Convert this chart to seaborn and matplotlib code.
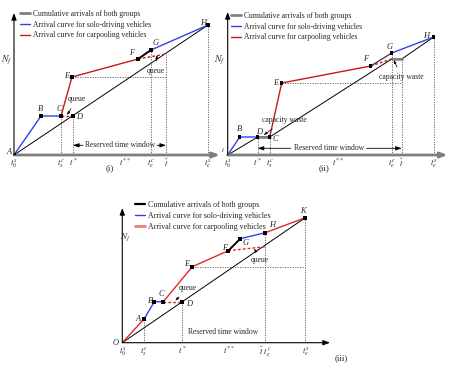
import matplotlib
matplotlib.use("Agg")
import matplotlib.pyplot as plt
import seaborn as sns
from matplotlib.lines import Line2D

sns.set_style("white")
plt.rcParams["font.family"] = ["Liberation Serif", "DejaVu Serif"]
plt.rcParams["mathtext.fontset"] = "stix"

BLUE = "#3040f0"
RED = "#c81818"
GRAY = "#7f7f7f"
LEG = ["Cumulative arrivals of both groups",
       "Arrival curve for solo-driving vehicles",
       "Arrival curve for carpooling vehicles"]

# ---------------- panel (i) data (time, cumulative count) ----------------
p1_pts = {"A": (0, 0), "B": (27, 39), "C": (47, 39), "D": (59, 39), "E": (58, 78),
          "F": (124, 96), "G": (137, 105), "H": (194, 130)}
p1_cum_t = [0, 194]
p1_cum_n = [0, 130]
p1_solo = [[(0, 0), (27, 39), (47, 39)], [(137, 105), (194, 130)]]
p1_pool = [[(47, 39), (58, 78), (124, 96)]]
p1_pool_dash = [[(47, 39), (59, 39)], [(124, 96), (152, 101)]]
p1_fg = [(124, 96), (137, 105)]
p1_vguide = [(47, 39), (59, 39), (137, 105), (152, 101), (194, 130)]
p1_hguide = [(58, 78), (152, 78)]
p1_ticks = [0, 47, 59, 111, 137, 152, 194]
p1_ticklabels = ["$t_0^s$", "$t_s^c$", "$t^*$", "$t^{**}$", "$t_e^c$", r"$\tilde{t}$", "$t_e^s$"]
p1_window = (59, 152)

# ---------------- panel (ii) data ----------------
p2_pts = {"B": (12, 18), "D": (30, 18), "C": (42, 18), "E": (54, 72),
          "F": (143, 89), "G": (164, 102), "H": (206, 118)}
p2_cum_t = [0, 30, 42, 164, 174, 206]
p2_cum_n = [0, 18, 18, 96, 96, 118]
p2_waste = [[(30, 18), (42, 18)], [(164, 96), (174, 96)]]
p2_solo = [[(0, 0), (12, 18), (30, 18)], [(164, 102), (206, 118)]]
p2_pool = [[(42, 18), (54, 72), (143, 89)]]
p2_pool_dash = [[(143, 89), (164, 96)]]
p2_fg = [(143, 89), (164, 102)]
p2_vguide = [(30, 18), (42, 18), (164, 102), (174, 96), (206, 118)]
p2_hguide = [(54, 72), (174, 72)]
p2_ticks = [0, 30, 42, 110, 164, 174, 206]
p2_ticklabels = ["$t_0^s$", "$t^*$", "$t_s^c$", "$t^{**}$", "$t_e^c$", r"$\tilde{t}$", "$t_e^s$"]
p2_window = (30, 174)

# ---------------- panel (iii) data ----------------
p3_pts = {"A": (22, 24), "B": (32, 41), "C": (41, 41), "D": (60, 41), "E": (70, 76),
          "F": (106, 92), "G": (118, 104), "H": (143, 110), "K": (183, 125)}
p3_cum_t = [0, 183]
p3_cum_n = [0, 125]
p3_solo = [[(22, 24), (32, 41), (41, 41)], [(118, 104), (143, 110)]]
p3_pool = [[(0, 0), (22, 24)], [(41, 41), (70, 76), (106, 92)], [(143, 110), (183, 125)]]
p3_pool_dash = [[(41, 41), (60, 41)], [(106, 92), (143, 96)]]
p3_fg = [(106, 92), (118, 104)]
p3_vguide = [(22, 24), (60, 41), (143, 110), (183, 125)]
p3_hguide = [(70, 76), (183, 76)]
p3_ticks = [0, 22, 60, 107, 143, 183]
p3_ticklabels = ["$t_0^s$", "$t_s^c$", "$t^*$", "$t^{**}$", r"$\tilde{t}\ t_e^c$", "$t_e^s$"]

W, H = 453, 375
fig = plt.figure(figsize=(W / 100, H / 100), dpi=100)


def make_ax(ox, oy, xmax, ymax):
    # axes placed in pixel units, 1 data unit = 1 pixel
    ax = fig.add_axes([ox / W, 1 - oy / H, xmax / W, ymax / H])
    ax.set_xlim(0, xmax)
    ax.set_ylim(0, ymax)
    ax.patch.set_alpha(0)
    for s in ax.spines.values():
        s.set_visible(False)
    ax.set_yticks([])
    return ax


def seg(ax, pts, **kw):
    xs = [p[0] for p in pts]
    ys = [p[1] for p in pts]
    sns.lineplot(x=xs, y=ys, sort=False, estimator=None, ax=ax, **kw)


def guides(ax, vpts, hpts):
    for t, n in vpts:
        seg(ax, [(t, 0), (t, n)], color="#555555", lw=0.6, linestyle=(0, (1.5, 1.5)))
    seg(ax, hpts, color="#555555", lw=0.6, linestyle=(0, (1.5, 1.5)))


def axes_arrows(ax, xmax, ymax, xcol, xlw):
    ax.annotate("", xy=(xmax, 0), xytext=(0, 0), annotation_clip=False,
                arrowprops=dict(arrowstyle="-|>,head_length=0.4,head_width=0.15",
                                color=xcol, lw=xlw, shrinkA=0, shrinkB=0))
    ax.annotate("", xy=(0, ymax), xytext=(0, 0), annotation_clip=False,
                arrowprops=dict(arrowstyle="-|>,head_length=0.4,head_width=0.15",
                                color="black", lw=0.8, shrinkA=0, shrinkB=0))


def markers(ax, pts, ms):
    xs = [p[0] for p in pts.values()]
    ys = [p[1] for p in pts.values()]
    sns.scatterplot(x=xs, y=ys, marker="s", s=ms, color="black", edgecolor="none",
                    ax=ax, zorder=5)


def ticks(ax, tk, lab):
    ax.set_xticks(tk)
    ax.set_xticklabels(lab, fontsize=6)
    ax.tick_params(axis="x", length=0, pad=1.5)


def window_arrows(ax, win, y, text_l, text_r):
    ax.annotate("", xy=(win[0], y), xytext=(text_l, y),
                arrowprops=dict(arrowstyle="-|>,head_length=0.35,head_width=0.12",
                                color="black", lw=0.6, shrinkA=0, shrinkB=0))
    ax.annotate("", xy=(win[1], y), xytext=(text_r, y),
                arrowprops=dict(arrowstyle="-|>,head_length=0.35,head_width=0.12",
                                color="black", lw=0.6, shrinkA=0, shrinkB=0))


def note(ax, txt, xy, xytext):
    ax.annotate(txt, xy=xy, xytext=xytext, fontsize=5.5, ha="center", va="center",
                arrowprops=dict(arrowstyle="-|>,head_length=0.35,head_width=0.12",
                                color="black", lw=0.5, shrinkA=2, shrinkB=0))


def legend(ax, x, y, cols, lws, fs):
    hs = [Line2D([], [], color=c, lw=w) for c, w in zip(cols, lws)]
    ax.legend(hs, LEG, loc="upper left", bbox_to_anchor=(x / W, 1 - y / H),
              bbox_transform=fig.transFigure, frameon=False, fontsize=fs,
              handlelength=1.3, handletextpad=0.4, labelspacing=0.35, borderpad=0,
              borderaxespad=0)


lab = dict(fontsize=6, style="italic", ha="center", va="center")

# ================= panel (i) =================
ax1 = make_ax(14, 155, 206, 142)
guides(ax1, p1_vguide, p1_hguide)
seg(ax1, list(zip(p1_cum_t, p1_cum_n)), color="black", lw=0.7)
for s in p1_solo:
    seg(ax1, s, color=BLUE, lw=1.0)
for s in p1_pool:
    seg(ax1, s, color=RED, lw=1.0)
for s in p1_pool_dash:
    seg(ax1, s, color=RED, lw=1.0, linestyle=(0, (2, 1.5)))
seg(ax1, p1_fg, color="black", lw=1.4)
markers(ax1, p1_pts, 5)
axes_arrows(ax1, 206, 142, GRAY, 2.0)
ticks(ax1, p1_ticks, p1_ticklabels)
offs1 = {"A": (-5, 3), "B": (-1, 7), "C": (-2, 7), "D": (6, -1), "E": (-5, 1),
         "F": (-6, 6), "G": (5, 7), "H": (-5, 2)}
for k, (t, n) in p1_pts.items():
    ax1.text(t + offs1[k][0], n + offs1[k][1], k, **lab)
note(ax1, "queue", (53, 40), (63, 56))
note(ax1, "queue", (143, 100), (142, 84))
ax1.text(106, 9.7, "Reserved time window", fontsize=5.5, ha="center", va="center")
window_arrows(ax1, p1_window, 9.7, 69, 143)
ax1.text(-7, 95, "$N_f$", fontsize=7, ha="center", va="center")
ax1.text(96, -13.5, "(i)", fontsize=6.5, ha="center", va="center")
ax1.text(209, 5, "$t$", fontsize=5, ha="center", va="center")
legend(ax1, 20, 10, [GRAY, BLUE, RED], [2.0, 1.0, 1.0], 5.5)

# ================= panel (ii) =================
ax2 = make_ax(227.7, 155, 220, 143)
guides(ax2, p2_vguide, p2_hguide)
seg(ax2, list(zip(p2_cum_t, p2_cum_n)), color="black", lw=0.7)
for s in p2_waste:
    seg(ax2, s, color=GRAY, lw=1.8)
for s in p2_solo:
    seg(ax2, s, color=BLUE, lw=1.0)
for s in p2_pool:
    seg(ax2, s, color=RED, lw=1.0)
for s in p2_pool_dash:
    seg(ax2, s, color=RED, lw=1.0, linestyle=(0, (2, 1.5)))
seg(ax2, p2_fg, color="#333333", lw=0.9)
markers(ax2, p2_pts, 5)
axes_arrows(ax2, 220, 143, GRAY, 2.0)
ticks(ax2, p2_ticks, p2_ticklabels)
offs2 = {"B": (0, 8), "D": (1.5, 5), "C": (6, -2), "E": (-6, 0),
         "F": (-5, 7), "G": (-2, 6), "H": (-8, 1)}
for k, (t, n) in p2_pts.items():
    ax2.text(t + offs2[k][0], n + offs2[k][1], k, **lab)
note(ax2, "capacity waste", (36, 20), (57, 35))
note(ax2, "capacity waste", (166, 95), (174, 78))
ax2.text(101, 6.7, "Reserved time window", fontsize=5.5, ha="center", va="center")
window_arrows(ax2, p2_window, 6.7, 63, 139)
ax2.text(-7.7, 95, "$N_f$", fontsize=7, ha="center", va="center")
ax2.text(96.6, -13.5, "(ii)", fontsize=6.5, ha="center", va="center")
legend(ax2, 231, 12, [GRAY, BLUE, RED], [2.0, 1.0, 1.0], 5.5)

# ================= panel (iii) =================
ax3 = make_ax(122.3, 342.7, 207.7, 134.7)
guides(ax3, p3_vguide, p3_hguide)
seg(ax3, list(zip(p3_cum_t, p3_cum_n)), color="black", lw=0.7)
for s in p3_solo:
    seg(ax3, s, color=BLUE, lw=1.0)
for s in p3_pool:
    seg(ax3, s, color="#e02828", lw=1.0)
for s in p3_pool_dash:
    seg(ax3, s, color="#e02828", lw=1.0, linestyle=(0, (2, 1.5)))
seg(ax3, p3_fg, color="black", lw=1.4)
markers(ax3, p3_pts, 9)
axes_arrows(ax3, 207.7, 134.7, "black", 0.8)
ticks(ax3, p3_ticks, p3_ticklabels)
offs3 = {"A": (-6.7, 0), "B": (-4, 1), "C": (-2, 8), "D": (6.7, -2), "E": (-6, 3),
         "F": (-4, 3), "G": (5, -4), "H": (7, 7.5), "K": (-2.5, 7)}
for k, (t, n) in p3_pts.items():
    ax3.text(t + offs3[k][0], n + offs3[k][1], k, **lab)
ax3.text(-6.7, 0, "O", **lab)
note(ax3, "queue", (53, 42), (66, 55))
note(ax3, "queue", (132, 94), (138, 83))
ax3.text(100.7, 10.5, "Reserved time window", fontsize=5.5, ha="center", va="center")
ax3.text(2.5, 106, "$N_j$", fontsize=6.5, ha="center", va="center")
ax3.text(218.7, -15.7, "(iii)", fontsize=6.5, ha="center", va="center")
legend(ax3, 135, 201, ["black", BLUE, "#e88080"], [1.6, 1.0, 2.0], 5.7)

fig.savefig("out.png", dpi=100)
